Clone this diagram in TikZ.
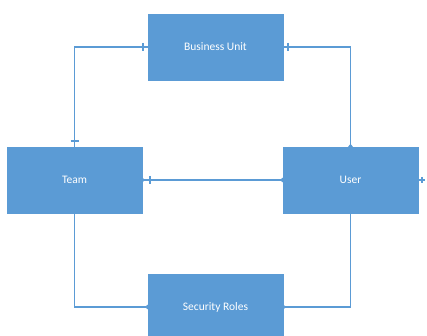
\documentclass[tikz,border=0pt]{standalone}
\usepackage{fontspec}
\setmainfont{Carlito}
\usetikzlibrary{arrows.meta}
\definecolor{entblue}{HTML}{5B9BD5}
\tikzset{
  x=1pt, y=-1pt,
  entity/.style={fill=entblue, draw=entblue, minimum width=135pt, minimum height=66pt,
    inner sep=0pt, text=white, font=\fontsize{11.5}{13}\selectfont},
  rel/.style={draw=entblue, line width=1.3pt},
  many/.style={-{Triangle[reversed,length=3pt,width=4.5pt]}},
  manyboth/.style={{Triangle[reversed,length=3pt,width=4.5pt]}-{Triangle[reversed,length=3pt,width=4.5pt]}},
  onebar/.style={draw=entblue, line width=1.1pt},
}
\begin{document}
\begin{tikzpicture}
\useasboundingbox (0,0) rectangle (427,336);
\begin{scope}
\clip (0,0) rectangle (427,336);
\node[entity] (bu)   at (215.5,47)  {Business Unit};
\node[entity] (team) at (74.5,180)  {Team};
\node[entity] (user) at (350.5,180) {User};
\node[entity] (sr)   at (215.5,307) {Security Roles};
\end{scope}

% Team -- Business Unit
\draw[rel] (team.north) |- (bu.west);
\draw[onebar] (143,43) -- (143,51);
\draw[onebar] (70.5,141) -- (78.5,141);

% User -- Business Unit
\draw[rel,many] (bu.east) -| (user.north);
\draw[onebar] (288,43) -- (288,51);

% User -- Team
\draw[rel,manyboth] (team.east) -- (user.west);
\draw[onebar] (150,176) -- (150,184);

% User self stub
\coordinate (c3) at (425,180);
\draw[rel] (user.east) -- (c3);
\draw[onebar] (422,177) -- (422,183);

% Team -- Security Roles
\draw[rel,many] (team.south) |- (sr.west);

% User -- Security Roles
\draw[rel,many] (user.south) |- (sr.east);
\end{tikzpicture}
\end{document}
